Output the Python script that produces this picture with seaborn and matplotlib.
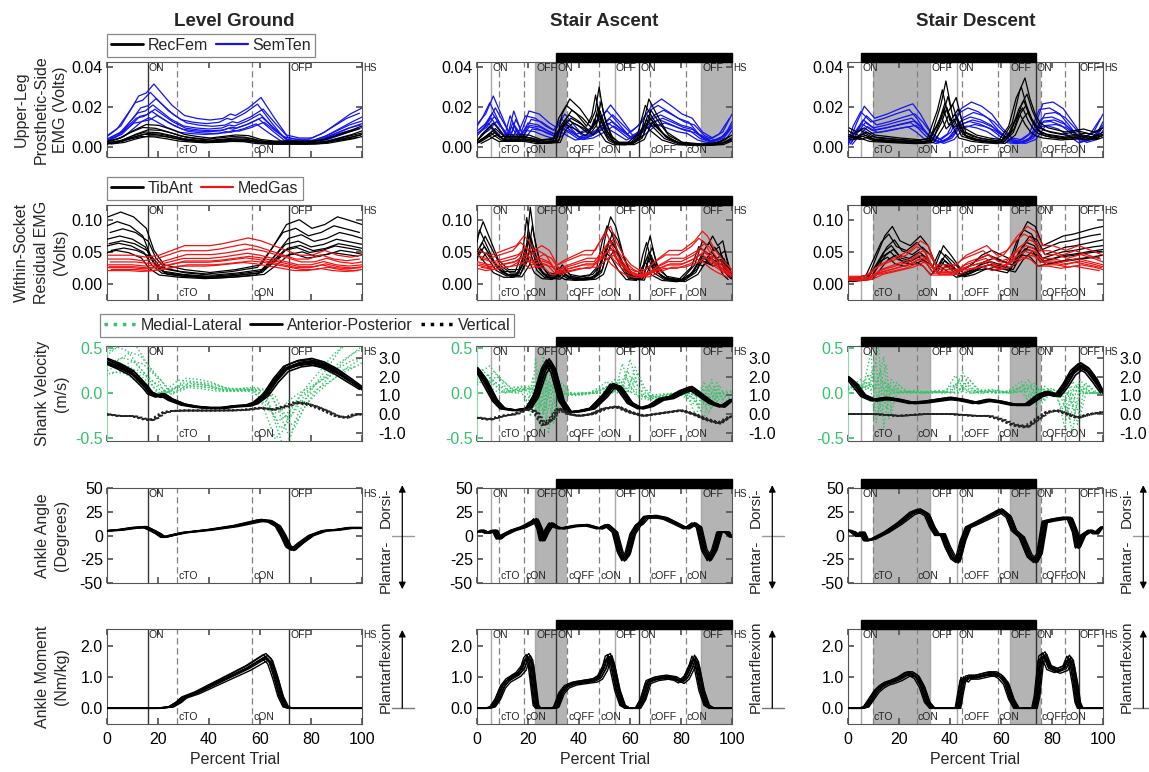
import numpy as np
import pandas as pd
import matplotlib
matplotlib.use("Agg")
import matplotlib.pyplot as plt
import seaborn as sns
from matplotlib.patches import Rectangle
from matplotlib.lines import Line2D

sns.set_theme(style="white")
plt.rcParams["font.family"] = ["Liberation Sans", "DejaVu Sans"]
plt.rcParams["axes.unicode_minus"] = False

# ---------------- text ----------------
COLUMN_TITLES = ["Level Ground", "Stair Ascent", "Stair Descent"]
ROW_LABELS = ["Upper-Leg\nProsthetic-Side\nEMG (Volts)",
              "Within-Socket\nResidual EMG\n(Volts)",
              "Shank Velocity\n(m/s)",
              "Ankle Angle\n(Degrees)",
              "Ankle Moment\n(Nm/kg)"]
XTICKS = [0, 20, 40, 60, 80, 100]

# ---------------- gait events ----------------
LG_EVENT_X = [16, 27.5, 57, 71.5]
LG_EVENT_LABELS = ["ON", "cTO", "cON", "OFF"]
SA_EVENT_X = [5.5, 8.7, 18.5, 22.8, 31, 35.4, 48, 54, 63.7, 67.8, 81.9, 88]
SA_EVENT_LABELS = ["ON", "cTO", "cON", "OFF", "ON", "cOFF", "cON", "OFF", "ON", "cOFF", "cON", "OFF"]
SD_EVENT_X = [5.1, 9.7, 27, 32.3, 42.8, 44.8, 58.8, 63.5, 73.6, 75.6, 85, 90.4]
SD_EVENT_LABELS = ["ON", "cTO", "cON", "OFF", "ON", "cOFF", "cON", "OFF", "ON", "cOFF", "cON", "OFF"]
SA_SHADE = [(22.8, 35.4), (88, 100)]
SD_SHADE = [(9.7, 32.3), (63.5, 75.6)]
SA_BAR = (31, 100)
SD_BAR = (5.1, 73.6)

# ---------------- row 1: upper-leg EMG ----------------
LG_RECFEM_X = [0, 5, 10, 15, 20, 25, 30, 35, 40, 45, 50, 55, 60, 65, 70, 75, 80, 85, 90, 95, 100]
LG_RECFEM = [0.002, 0.003, 0.0055, 0.0075, 0.0072, 0.0058, 0.0042, 0.0035, 0.003, 0.0035,
             0.004, 0.0038, 0.0025, 0.002, 0.002, 0.002, 0.002, 0.0025, 0.004, 0.0055, 0.007]
LG_SEMTEN_X = [0, 5, 10, 12, 15, 18, 20, 25, 30, 35, 40, 45, 48, 50, 55, 60, 65, 70, 75, 80, 85, 90, 95, 100]
LG_SEMTEN = [0.004, 0.007, 0.014, 0.017, 0.018, 0.021, 0.019, 0.014, 0.0105, 0.0095, 0.009, 0.0095,
             0.011, 0.0105, 0.013, 0.0165, 0.010, 0.004, 0.003, 0.003, 0.005, 0.008, 0.011, 0.013]
SA_RECFEM_X = [0, 3, 6, 10, 15, 20, 25, 31, 33, 36, 40, 44, 46, 47.5, 49, 52, 55, 60, 64, 67,
               70, 74, 80, 88, 95, 100]
SA_RECFEM = [0.0024, 0.005, 0.008, 0.004, 0.004, 0.004, 0.0024, 0.003, 0.011, 0.016,
             0.0128, 0.008, 0.012, 0.02, 0.012, 0.004, 0.0016, 0.0016, 0.005, 0.016,
             0.011, 0.005, 0.0016, 0.001, 0.0016, 0.004]
SA_SEMTEN_X = [0, 3, 6, 9, 12, 14, 17, 20, 24, 28, 31, 34, 37, 40, 44, 48, 52, 56, 60, 64,
               68, 72, 76, 80, 84, 88, 92, 96, 100]
SA_SEMTEN = [0.008, 0.011, 0.017, 0.011, 0.005, 0.012, 0.005, 0.012, 0.011, 0.008,
             0.0064, 0.011, 0.008, 0.005, 0.006, 0.0096, 0.014, 0.0096, 0.005, 0.008,
             0.0136, 0.016, 0.0136, 0.011, 0.0096, 0.005, 0.003, 0.005, 0.011]
SD_RECFEM_X = [0, 3, 6, 10, 20, 28, 32, 36, 38, 40, 42, 45, 50, 55, 60, 64, 67, 69, 71, 73,
               75, 78, 85, 92, 96, 100]
SD_RECFEM = [0.0064, 0.005, 0.0064, 0.004, 0.003, 0.0024, 0.003, 0.014, 0.022, 0.013,
             0.0165, 0.0064, 0.004, 0.003, 0.0024, 0.008, 0.019, 0.023, 0.016, 0.011,
             0.008, 0.0064, 0.005, 0.006, 0.005, 0.0064]
SD_SEMTEN_X = [0, 3, 6, 10, 15, 20, 25, 28, 32, 36, 40, 44, 48, 52, 56, 60, 64, 68, 72, 76,
               80, 84, 88, 92, 96, 100]
SD_SEMTEN = [0.0016, 0.008, 0.0136, 0.0096, 0.011, 0.0128, 0.0144, 0.011, 0.005, 0.0024,
             0.005, 0.0128, 0.015, 0.0136, 0.011, 0.0064, 0.003, 0.0024, 0.005, 0.0144,
             0.015, 0.0128, 0.008, 0.003, 0.005, 0.011]

# ---------------- row 2: residual EMG ----------------
LG_TIBANT_X = [0, 5, 10, 15, 18, 22, 30, 40, 50, 60, 65, 70, 75, 80, 85, 90, 95, 100]
LG_TIBANT = [0.07, 0.075, 0.07, 0.058, 0.035, 0.02, 0.015, 0.012, 0.015, 0.02,
             0.04, 0.062, 0.067, 0.058, 0.062, 0.07, 0.066, 0.062]
LG_MEDGAS_X = [0, 5, 10, 15, 20, 25, 30, 35, 40, 45, 50, 55, 60, 65, 70, 75, 80, 85, 90, 95, 100]
LG_MEDGAS = [0.03, 0.03, 0.03, 0.028, 0.03, 0.035, 0.04, 0.04, 0.04, 0.042,
             0.045, 0.048, 0.045, 0.04, 0.035, 0.03, 0.03, 0.035, 0.03, 0.028, 0.03]
SA_TIBANT_X = [0, 2, 5, 8, 12, 16, 19, 20.5, 22, 24, 27, 31, 33, 36, 40, 45, 48, 50, 52, 54,
               57, 60, 64, 66, 67.5, 70, 74, 80, 85, 88, 90, 92, 94, 96, 98, 100]
SA_TIBANT = [0.05, 0.065, 0.045, 0.025, 0.015, 0.015, 0.04, 0.08, 0.05, 0.025,
             0.012, 0.01, 0.02, 0.01, 0.008, 0.01, 0.02, 0.05, 0.07, 0.06,
             0.03, 0.01, 0.008, 0.035, 0.05, 0.02, 0.008, 0.005, 0.02, 0.045,
             0.04, 0.05, 0.04, 0.045, 0.02, 0.01]
SA_MEDGAS_X = [0, 5, 10, 15, 18, 20, 22, 25, 28, 31, 34, 38, 42, 46, 50, 52, 54, 57, 60, 63,
               66, 70, 75, 80, 85, 88, 90, 93, 96, 100]
SA_MEDGAS = [0.035, 0.03, 0.035, 0.04, 0.05, 0.045, 0.035, 0.04, 0.035, 0.02,
             0.025, 0.03, 0.035, 0.035, 0.055, 0.06, 0.045, 0.03, 0.02, 0.015,
             0.015, 0.025, 0.035, 0.035, 0.045, 0.055, 0.05, 0.035, 0.025, 0.015]
SD_TIBANT_X = [0, 5, 8, 11, 14, 17, 20, 24, 28, 31, 34, 37, 40, 44, 48, 52, 56, 60, 64, 67,
               70, 73, 76, 80, 84, 88, 92, 96, 100]
SD_TIBANT = [0.005, 0.008, 0.01, 0.03, 0.05, 0.06, 0.045, 0.04, 0.05, 0.04,
             0.02, 0.04, 0.03, 0.015, 0.02, 0.03, 0.035, 0.03, 0.025, 0.05,
             0.065, 0.06, 0.04, 0.045, 0.05, 0.052, 0.055, 0.058, 0.06]
SD_MEDGAS_X = [0, 5, 8, 12, 16, 20, 24, 28, 31, 34, 38, 42, 46, 50, 54, 58, 62, 66, 70, 73,
               76, 80, 85, 90, 95, 100]
SD_MEDGAS = [0.008, 0.008, 0.01, 0.02, 0.025, 0.03, 0.035, 0.045, 0.04, 0.02,
             0.02, 0.02, 0.03, 0.035, 0.04, 0.03, 0.035, 0.05, 0.06, 0.055,
             0.04, 0.04, 0.035, 0.04, 0.035, 0.03]

# ---------------- row 3: shank velocity ----------------
LG_ML_X = [0, 3, 6, 10, 14, 18, 22, 26, 30, 35, 40, 45, 50, 55, 58, 62, 65, 68, 71, 74,
           78, 82, 86, 90, 94, 97, 100]
LG_ML = [0.31, 0.34, 0.39, 0.36, 0.24, 0.13, -0.01, 0.04, 0.11, 0.1,
         0.08, 0.04, 0.03, 0.04, 0.04, -0.04, -0.22, -0.39, -0.32, -0.15,
         -0.01, 0.1, 0.2, 0.31, 0.39, 0.45, 0.48]
LG_AP_X = [0, 5, 10, 15, 17, 20, 22, 25, 30, 35, 40, 45, 50, 55, 58, 62, 66, 70, 75, 80,
           85, 90, 95, 100]
LG_AP = [2.82, 2.56, 2.2, 1.49, 1.13, 0.96, 1.05, 0.78, 0.51, 0.39,
         0.33, 0.33, 0.42, 0.46, 0.6, 1.04, 1.84, 2.47, 2.73, 2.82,
         2.64, 2.29, 1.84, 1.4]
LG_VERT_X = [0, 5, 10, 15, 18, 22, 25, 30, 40, 50, 55, 60, 65, 70, 74, 78, 82, 86, 90, 94, 97, 100]
LG_VERT = [-0.02, -0.11, -0.11, -0.29, -0.32, 0.07, 0.16, 0.19, 0.19, 0.2,
           0.24, 0.33, 0.24, 0.42, 0.63, 0.56, 0.39, 0.16, -0.11, -0.2, -0.02, -0.02]
SA_ML_X = [0, 4, 8, 12, 16, 20, 23, 25, 27, 30, 33, 38, 42, 46, 50, 53, 56, 59, 62, 66,
           70, 75, 80, 85, 88, 91, 94, 97, 100]
SA_ML = [0.15, 0.2, 0.1, 0.0, 0.05, 0.05, -0.2, 0.3, -0.3, 0.1,
         0.0, -0.02, 0.0, 0.0, 0.05, 0.1, 0.0, 0.25, 0.05, -0.05,
         -0.05, -0.02, 0.0, -0.05, -0.2, 0.1, -0.1, 0.0, 0.02]
SA_AP_X = [0, 3, 7, 10, 15, 20, 23, 26, 28, 30, 33, 36, 40, 45, 50, 53, 56, 60, 64, 68,
           72, 76, 80, 84, 88, 92, 96, 100]
SA_AP = [2.35, 1.8, 0.75, 0.3, 0.2, 0.3, 1.0, 2.35, 2.8, 2.35,
         0.75, 0.1, 0.15, 0.3, 1.0, 1.55, 1.4, 0.6, 0.3, 0.45,
         0.8, 0.9, 1.2, 1.4, 1.0, 0.6, 0.4, 0.75]
SA_VERT_X = [0, 5, 10, 15, 20, 23, 26, 29, 32, 36, 40, 45, 50, 55, 60, 65, 70, 75, 80, 85, 90, 95, 100]
SA_VERT = [-0.2, -0.3, -0.1, 0.0, 0.3, 0.1, -0.6, -0.3, 0.3, 0.0,
           -0.1, 0.0, 0.3, 0.4, 0.1, -0.1, 0.0, 0.1, 0.2, 0.0, -0.3, -0.5, -0.1]
SD_ML_X = [0, 4, 8, 11, 13, 16, 20, 25, 30, 35, 40, 44, 47, 50, 55, 60, 65, 70, 73, 76,
           80, 84, 87, 90, 94, 100]
SD_ML = [0.05, 0.1, 0.05, 0.35, -0.25, 0.1, 0.0, 0.02, 0.0, 0.02,
         0.0, 0.15, 0.05, 0.0, 0.03, 0.0, 0.02, 0.1, -0.1, 0.05,
         0.0, 0.0, -0.3, 0.1, 0.0, 0.0]
SD_AP_X = [0, 3, 6, 10, 15, 20, 25, 30, 35, 40, 45, 50, 55, 60, 65, 70, 75, 78, 82, 85,
           88, 91, 94, 97, 100]
SD_AP = [1.9, 1.55, 1.0, 0.75, 0.85, 0.75, 0.6, 0.65, 0.75, 0.85,
         0.75, 0.6, 0.75, 0.65, 0.5, 0.5, 1.0, 1.15, 1.0, 1.55,
         2.25, 2.6, 2.35, 1.8, 1.2]
SD_VERT_X = [0, 10, 20, 30, 40, 50, 55, 60, 65, 70, 74, 78, 82, 86, 90, 95, 100]
SD_VERT = [0.0, 0.0, -0.1, 0.0, 0.0, -0.1, -0.1, -0.3, -0.6, -0.7,
           -0.3, 0.1, 0.2, 0.0, -0.2, 0.0, 0.1]

# ---------------- row 4: ankle angle ----------------
LG_ANG_X = [0, 5, 10, 15, 18, 20, 22, 25, 30, 40, 50, 55, 60, 64, 67, 69, 71, 73, 76, 80, 85, 90, 95, 100]
LG_ANG = [5, 6, 8, 9, 5, 2, -2, 0, 3, 6, 10, 13, 16, 15, 10, 0, -12, -15, -8, 0, 5, 6, 8, 8]
SA_ANG_X = [0, 2, 4, 6, 7, 8, 8.5, 10, 14, 18, 22, 23, 24.5, 25.5, 27, 29, 31, 33, 38, 43,
            48, 51, 54, 56, 57.5, 59, 61, 63, 64, 66, 70, 74, 78, 82, 85, 87, 89, 91, 93, 95, 98, 100]
SA_ANG = [3.6, 5.5, 2.5, 4.7, 5.5, -1, -3.6, 0, 5.5, 9,
          14.6, 17, 7.3, -5.5, 3.6, 12.8, 9, 7.3, 10, 11,
          7.3, 11, 3.6, -18, -25.5, -20, 1.8, 11, 12.8, 19.3,
          20, 18, 12.8, 7.3, 12.8, 9, -16, -25.5, -16, 3.6, 3.6, -1.8]
SD_ANG_X = [0, 2, 4, 5.5, 7, 10, 15, 20, 25, 28, 31, 33, 35, 37, 39, 41, 43, 45, 47, 50,
            54, 58, 60, 63, 65, 68, 71, 73.5, 75, 77, 80, 84, 87, 89, 90, 92, 95, 97, 100]
SD_ANG = [5.5, 3.6, -1, 3.6, -5.5, -3.6, 3.6, 12.8, 23.7, 26.6,
          22, 9, 0, 1.8, -12.8, -23.7, -27.4, -5.5, 9, 12.8,
          18.2, 23.7, 26.6, 20, 5.5, -1.8, -21.9, -27.4, -20, 14.6,
          16.4, 18.2, 18.2, 3.6, -12.8, 0, 5.5, 1.8, 9]

# ---------------- row 5: ankle moment ----------------
LG_MOM_X = [0, 20, 25, 28, 30, 35, 40, 45, 50, 55, 58, 61, 62, 64, 66, 68, 70, 72, 100]
LG_MOM = [0, 0, 0.05, 0.2, 0.35, 0.5, 0.7, 0.9, 1.1, 1.3, 1.45, 1.6, 1.65, 1.5, 1.0, 0.4, 0.05, 0, 0]
SA_MOM_X = [0, 4, 6, 8, 10, 12, 14, 16, 18, 19, 20, 21, 22, 23, 24, 30, 31, 33, 35, 38,
            42, 46, 48, 50, 51, 52, 53, 55, 57, 59, 63, 65, 67, 70, 74, 78, 80, 82, 84, 85,
            86, 88, 90, 92, 100]
SA_MOM = [0, 0, 0.05, 0.3, 0.7, 0.9, 1.0, 1.1, 1.3, 1.55,
          1.65, 1.5, 0.8, 0.1, 0, 0, 0.05, 0.5, 0.7, 0.8,
          0.85, 0.9, 1.0, 1.3, 1.6, 1.65, 1.4, 0.6, 0.1, 0,
          0, 0.3, 0.85, 0.95, 1.0, 0.95, 0.85, 1.0, 1.35, 1.6,
          1.45, 0.6, 0.1, 0, 0]
SD_MOM_X = [0, 5, 7, 9, 11, 13, 15, 17, 20, 23, 25, 27, 29, 31, 33, 43, 44, 45, 46, 47,
            50, 55, 58, 60, 62, 64, 66, 73, 74, 75.5, 77, 79, 82, 85, 86.5, 87.5, 89, 90, 91, 100]
SD_MOM = [0, 0, 0.05, 0.3, 0.55, 0.7, 0.8, 0.85, 0.95, 1.1,
          1.1, 1.0, 0.7, 0.2, 0, 0, 0.5, 0.95, 0.9, 1.0,
          1.0, 1.1, 1.1, 1.0, 0.8, 0.3, 0, 0, 0.4, 1.6,
          1.7, 1.3, 1.2, 1.3, 1.6, 1.5, 0.8, 0.2, 0, 0]

# ---------------- trial-to-trial variation (per trial) ----------------
EMG_SHIFT = [-1.5, -1.0, -0.5, 0.0, 0.4, 0.8, 1.2, 1.6]
EMG_GAIN = [0.7, 1.3, 0.85, 1.0, 1.5, 0.9, 1.15, 0.75]
KIN_SHIFT = [-1.0, -0.7, -0.35, 0.0, 0.3, 0.6, 0.9, 1.2]
KIN_GAIN = [0.95, 1.04, 0.98, 1.0, 1.06, 0.97, 1.02, 0.93]
ML_SHIFT = [-3.0, -2.0, -1.0, 0.0, 1.0, 2.0, 3.0, 4.0]
ML_GAIN = [0.6, 1.3, 0.8, 1.0, 1.5, 0.7, 1.15, 0.9]

# ---------------- styling ----------------
BLUE, RED, GREEN = "#1414f0", "#f01414", "#33c46a"
SHADE = "#b4b4b4"
W, H = 1149, 772
COL_LEFT = [107, 477, 848]
AX_W = 255
ROW_TOP = [62, 205, 346, 488, 629]
AX_H = 95
DARK_EVENT_IDX = [[0, 3], [4, 8], [8, 11]]
TICK_FS = 11.5
SIDE_TEXT_X = 1.094
SIDE_ARROW_X = 1.158

EVENTS = [(LG_EVENT_X, LG_EVENT_LABELS), (SA_EVENT_X, SA_EVENT_LABELS), (SD_EVENT_X, SD_EVENT_LABELS)]
SHADES = [[], SA_SHADE, SD_SHADE]
BARS = [None, SA_BAR, SD_BAR]

ROW1 = [((LG_RECFEM_X, LG_RECFEM), (LG_SEMTEN_X, LG_SEMTEN)),
        ((SA_RECFEM_X, SA_RECFEM), (SA_SEMTEN_X, SA_SEMTEN)),
        ((SD_RECFEM_X, SD_RECFEM), (SD_SEMTEN_X, SD_SEMTEN))]
ROW2 = [((LG_TIBANT_X, LG_TIBANT), (LG_MEDGAS_X, LG_MEDGAS)),
        ((SA_TIBANT_X, SA_TIBANT), (SA_MEDGAS_X, SA_MEDGAS)),
        ((SD_TIBANT_X, SD_TIBANT), (SD_MEDGAS_X, SD_MEDGAS))]
ROW3 = [((LG_ML_X, LG_ML), (LG_AP_X, LG_AP), (LG_VERT_X, LG_VERT)),
        ((SA_ML_X, SA_ML), (SA_AP_X, SA_AP), (SA_VERT_X, SA_VERT)),
        ((SD_ML_X, SD_ML), (SD_AP_X, SD_AP), (SD_VERT_X, SD_VERT))]
ROW4 = [(LG_ANG_X, LG_ANG), (SA_ANG_X, SA_ANG), (SD_ANG_X, SD_ANG)]
ROW5 = [(LG_MOM_X, LG_MOM), (SA_MOM_X, SA_MOM), (SD_MOM_X, SD_MOM)]


def trials_frame(x, y, shifts, gains):
    parts = []
    for k, (s, g) in enumerate(zip(shifts, gains)):
        xs = np.clip(np.asarray(x, float) + s, 0, 100)
        ys = np.asarray(y, float) * g
        parts.append(pd.DataFrame({"pct": xs, "val": ys, "trial": k}))
    return pd.concat(parts, ignore_index=True)


def draw_series(ax, xy, shifts, gains, color, lw, ls="-"):
    df = trials_frame(xy[0], xy[1], shifts, gains)
    sns.lineplot(data=df, x="pct", y="val", units="trial", estimator=None, sort=False,
                 color=color, linewidth=lw, linestyle=ls, ax=ax, legend=False, zorder=3)


def decorate(ax, c):
    ex, el = EVENTS[c]
    for a, b in SHADES[c]:
        ax.axvspan(a, b, color=SHADE, lw=0, zorder=0)
    for i, (x, lab) in enumerate(zip(ex, el)):
        if lab.startswith("c"):
            ax.axvline(x, color="#808080", lw=0.9, ls=(0, (5, 3)), zorder=1)
            ax.text(x + 0.4, 0.02, lab, transform=ax.get_xaxis_transform(), fontsize=7.5,
                    va="bottom", ha="left", color="#222222", zorder=4)
        else:
            col = "#333333" if i in DARK_EVENT_IDX[c] else "#a8a8a8"
            ax.axvline(x, color=col, lw=1.0, zorder=1)
            ax.text(x + 0.4, 0.985, lab, transform=ax.get_xaxis_transform(), fontsize=7.5,
                    va="top", ha="left", color="#222222", zorder=4)
    ax.text(1.004, 0.985, "HS", transform=ax.transAxes, fontsize=7, va="top", ha="left",
            color="#222222")
    if BARS[c] is not None:
        a, b = BARS[c]
        ax.add_patch(Rectangle((a, 1.0), b - a, 9 / AX_H, transform=ax.get_xaxis_transform(),
                               color="black", clip_on=False, zorder=5))


def top_legend(ax, handles, labels, x0, gap_px):
    leg = ax.legend(handles, labels, loc="lower left", bbox_to_anchor=(x0, 1 + gap_px / AX_H),
                    ncol=len(handles), frameon=True, fancybox=False, edgecolor="#888888",
                    framealpha=1, fontsize=11.5, handlelength=2.0, handletextpad=0.3,
                    columnspacing=0.5, borderpad=0.25, borderaxespad=0)
    leg.get_frame().set_linewidth(0.9)


fig = plt.figure(figsize=(W / 100, H / 100), dpi=100)

for c in range(3):
    fig.text((COL_LEFT[c] + AX_W / 2) / W, 1 - 22 / H, COLUMN_TITLES[c], ha="center",
             va="center", fontsize=13.5, fontweight="bold")

for r in range(5):
    n = ROW_LABELS[r].count("\n") + 1
    cx = 63 - (n - 1) * 22 / 2
    fig.text(cx / W, 1 - (ROW_TOP[r] + AX_H / 2) / H, ROW_LABELS[r], rotation=90,
             ha="center", va="center", fontsize=11.5, linespacing=1.4, multialignment="center")

for r in range(5):
    for c in range(3):
        ax = fig.add_axes([COL_LEFT[c] / W, 1 - (ROW_TOP[r] + AX_H) / H, AX_W / W, AX_H / H])
        ax.set_facecolor("white")
        decorate(ax, c)
        if r == 0:
            rec, sem = ROW1[c]
            draw_series(ax, sem, EMG_SHIFT, EMG_GAIN, BLUE, 0.9)
            draw_series(ax, rec, EMG_SHIFT, EMG_GAIN, "black", 0.9)
            ax.set_ylim(-0.005, 0.0425)
            ax.set_yticks([0.0, 0.02, 0.04])
            ax.set_yticklabels(["0.00", "0.02", "0.04"])
        elif r == 1:
            tib, med = ROW2[c]
            draw_series(ax, tib, EMG_SHIFT, EMG_GAIN, "black", 0.9)
            draw_series(ax, med, EMG_SHIFT, EMG_GAIN, RED, 0.9)
            ax.set_ylim(-0.025, 0.1235)
            ax.set_yticks([0.0, 0.05, 0.10])
            ax.set_yticklabels(["0.00", "0.05", "0.10"])
        elif r == 2:
            ml, ap, vert = ROW3[c]
            draw_series(ax, ml, ML_SHIFT, ML_GAIN, GREEN, 1.0, ":")
            ax.set_ylim(-0.53, 0.52)
            ax.set_yticks([-0.5, 0.0, 0.5])
            ax.set_yticklabels(["-0.5", "0.0", "0.5"])
            ax.tick_params(axis="y", colors=GREEN, labelcolor=GREEN)
            ax2 = ax.twinx()
            draw_series(ax2, ap, KIN_SHIFT, KIN_GAIN, "black", 1.2)
            draw_series(ax2, vert, KIN_SHIFT, KIN_GAIN, "#222222", 1.2, ":")
            ax2.set_ylim(-1.45, 3.66)
            ax2.set_yticks([-1, 0, 1, 2, 3])
            ax2.set_yticklabels(["-1.0", "0.0", "1.0", "2.0", "3.0"])
            ax2.set_ylabel("")
            ax2.tick_params(axis="y", direction="in", length=4, pad=12, labelsize=TICK_FS,
                            colors="#555555", labelcolor="black")
            ax2.set_xlim(0, 100)
            for s in ax2.spines.values():
                s.set_visible(False)
        elif r == 3:
            draw_series(ax, ROW4[c], KIN_SHIFT, KIN_GAIN, "black", 1.0)
            ax.set_ylim(-50, 50)
            ax.set_yticks([-50, -25, 0, 25, 50])
            ax.set_yticklabels(["-50", "-25", "0", "25", "50"])
        else:
            draw_series(ax, ROW5[c], KIN_SHIFT, KIN_GAIN, "black", 1.0)
            ax.set_ylim(-0.5, 2.53)
            ax.set_yticks([0, 1, 2])
            ax.set_yticklabels(["0.0", "1.0", "2.0"])

        ax.set_xlim(0, 100)
        ax.set_xticks(XTICKS)
        ax.set_xlabel("")
        ax.set_ylabel("")
        ax.tick_params(axis="x", direction="in", top=True, bottom=True, length=4,
                       labelbottom=(r == 4), labelsize=TICK_FS, pad=6, colors="#555555",
                       labelcolor="black")
        if r == 2:
            ax.tick_params(axis="y", direction="in", left=True, right=False, length=4,
                           labelsize=TICK_FS, pad=3)
        else:
            ax.tick_params(axis="y", direction="in", left=True, right=True, length=4,
                           labelsize=TICK_FS, pad=3, colors="#555555", labelcolor="black")
        for name, s in ax.spines.items():
            s.set_color("#555555")
            s.set_linewidth(0.8)
        if r == 2:
            ax.spines["left"].set_color("#8fd9a8")
        if r == 4:
            ax.set_xlabel("Percent Trial", fontsize=TICK_FS, labelpad=3)

        # right-side direction annotations
        if r == 3:
            ax.annotate("", xy=(SIDE_ARROW_X, 1.03), xytext=(SIDE_ARROW_X, -0.065),
                        xycoords="axes fraction",
                        arrowprops=dict(arrowstyle="<|-|>", color="black", lw=0.9,
                                        mutation_scale=10, shrinkA=0, shrinkB=0),
                        annotation_clip=False)
            ax.plot([SIDE_ARROW_X - 0.04, SIDE_ARROW_X + 0.045], [0.5, 0.5], transform=ax.transAxes,
                    color="#999999", lw=1.0, clip_on=False)
            ax.text(SIDE_TEXT_X, 0.79, "Dorsi-", transform=ax.transAxes, rotation=90,
                    ha="center", va="center", fontsize=11)
            ax.text(SIDE_TEXT_X, 0.18, "Plantar-", transform=ax.transAxes, rotation=90,
                    ha="center", va="center", fontsize=11)
        if r == 4:
            ax.annotate("", xy=(SIDE_ARROW_X, 0.99), xytext=(SIDE_ARROW_X, 0.165),
                        xycoords="axes fraction",
                        arrowprops=dict(arrowstyle="-|>", color="black", lw=0.9,
                                        mutation_scale=10, shrinkA=0, shrinkB=0),
                        annotation_clip=False)
            ax.plot([SIDE_ARROW_X - 0.04, SIDE_ARROW_X + 0.045], [0.165, 0.165], transform=ax.transAxes,
                    color="#777777", lw=1.0, clip_on=False)
            ax.text(SIDE_TEXT_X, 0.6, "Plantarflexion", transform=ax.transAxes, rotation=90,
                    ha="center", va="center", fontsize=11)

        if c == 0 and r == 0:
            top_legend(ax, [Line2D([], [], color="black", lw=2.0), Line2D([], [], color=BLUE, lw=1.6)],
                       ["RecFem", "SemTen"], 0.0, 5)
        if c == 0 and r == 1:
            top_legend(ax, [Line2D([], [], color="black", lw=2.0), Line2D([], [], color=RED, lw=1.6)],
                       ["TibAnt", "MedGas"], 0.0, 5)
        if c == 0 and r == 2:
            top_legend(ax, [Line2D([], [], color=GREEN, lw=2.5, ls=":"),
                            Line2D([], [], color="black", lw=2.0),
                            Line2D([], [], color="black", lw=2.5, ls=":")],
                       ["Medial-Lateral", "Anterior-Posterior", "Vertical"], -0.027, 9)

fig.savefig("out.png", dpi=100)
